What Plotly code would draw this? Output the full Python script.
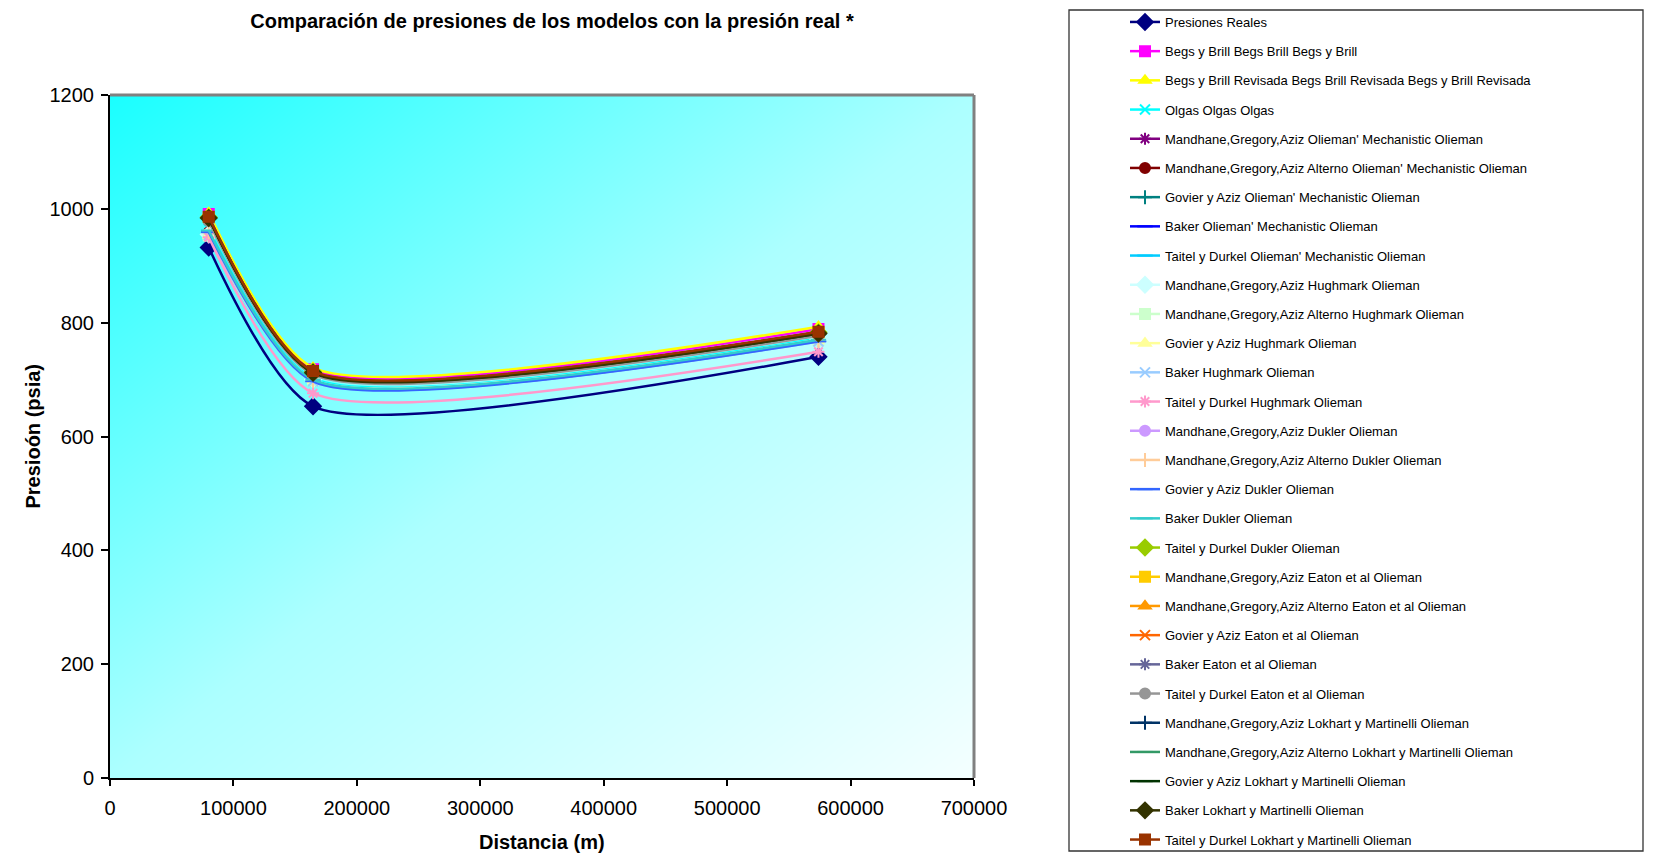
import numpy as np
import plotly.graph_objects as go

# Distance along the line (m) where pressure was evaluated
distancia_m = [80000, 164500, 574000]

series_names = [
    "Presiones Reales",
    "Begs y Brill Begs Brill Begs y Brill",
    "Begs y Brill Revisada Begs Brill Revisada Begs y Brill Revisada",
    "Olgas Olgas Olgas",
    "Mandhane,Gregory,Aziz Olieman' Mechanistic Olieman",
    "Mandhane,Gregory,Aziz Alterno Olieman' Mechanistic Olieman",
    "Govier y Aziz Olieman' Mechanistic Olieman",
    "Baker Olieman' Mechanistic Olieman",
    "Taitel y Durkel Olieman' Mechanistic Olieman",
    "Mandhane,Gregory,Aziz Hughmark Olieman",
    "Mandhane,Gregory,Aziz Alterno Hughmark Olieman",
    "Govier y Aziz Hughmark Olieman",
    "Baker Hughmark Olieman",
    "Taitel y Durkel Hughmark Olieman",
    "Mandhane,Gregory,Aziz Dukler Olieman",
    "Mandhane,Gregory,Aziz Alterno Dukler Olieman",
    "Govier y Aziz Dukler Olieman",
    "Baker Dukler Olieman",
    "Taitel y Durkel Dukler Olieman",
    "Mandhane,Gregory,Aziz Eaton et al Olieman",
    "Mandhane,Gregory,Aziz Alterno Eaton et al Olieman",
    "Govier y Aziz Eaton et al Olieman",
    "Baker Eaton et al Olieman",
    "Taitel y Durkel Eaton et al Olieman",
    "Mandhane,Gregory,Aziz Lokhart y Martinelli Olieman",
    "Mandhane,Gregory,Aziz Alterno Lokhart y Martinelli Olieman",
    "Govier y Aziz Lokhart y Martinelli Olieman",
    "Baker Lokhart y Martinelli Olieman",
    "Taitel y Durkel Lokhart y Martinelli Olieman",
]

# Pressure (psia) at each distance, one entry per series in legend order
presion_p1 = [932, 991, 993, 965, 985, 959, 985, 959, 961, 955,
              953, 952, 954, 950, 985, 959, 959, 962, 985, 985,
              985, 985, 985, 978, 984, 984, 984, 984, 986]
presion_p2 = [653, 718, 721, 702, 714, 698, 714, 698, 699, 700,
              699, 699, 697, 676, 714, 698, 697, 700, 714, 714,
              714, 714, 714, 709, 713, 713, 713, 712, 715]
presion_p3 = [740, 789, 793, 772, 783, 768, 783, 768, 769, 770,
              769, 769, 767, 749, 783, 768, 767, 770, 783, 783,
              783, 783, 783, 777, 782, 782, 781, 781, 784]

colors = [
    "#000080", "#FF00FF", "#FFFF00", "#00FFFF", "#800080", "#800000",
    "#008080", "#0000FF", "#00CCFF", "#CCFFFF", "#CCFFCC", "#FFFF99",
    "#99CCFF", "#FF99CC", "#CC99FF", "#FFCC99", "#3366FF", "#33CCCC",
    "#99CC00", "#FFCC00", "#FF9900", "#FF6600", "#666699", "#969696",
    "#003366", "#339966", "#003300", "#333300", "#993300",
]
symbols = [
    "diamond", "square", "triangle-up", "x-thin-open", "asterisk-open", "circle",
    "cross-thin-open", "line-ew-open", "line-ew-open", "diamond", "square",
    "triangle-up", "x-thin-open", "asterisk-open", "circle", "cross-thin-open",
    "line-ew-open", "line-ew-open", "diamond", "square", "triangle-up",
    "x-thin-open", "asterisk-open", "circle", "cross-thin-open", "line-ew-open",
    "line-ew-open", "diamond", "square",
]

FONT = "Liberation Sans, Arial, sans-serif"
X_RANGE = [0, 700000]
Y_RANGE = [0, 1200]

fig = go.Figure()

# Diagonal cyan-to-white plot-area fill
n = 41
gx = np.linspace(X_RANGE[0], X_RANGE[1], n)
gy = np.linspace(Y_RANGE[0], Y_RANGE[1], n)
u = np.linspace(0, 1, n)[None, :]
v = 1 - np.linspace(0, 1, n)[:, None]
fig.add_trace(go.Heatmap(
    x=gx, y=gy, z=(u + v) / 2, zmin=0, zmax=1, zsmooth="best",
    colorscale=[[0, "#1AFFFF"], [0.5, "#ACFFFF"], [1, "#F4FFFF"]],
    showscale=False, hoverinfo="skip", showlegend=False,
))

for i, name in enumerate(series_names):
    sym = symbols[i]
    size = 12 if sym == "diamond" else (11 if sym.startswith("line") else 10)
    fig.add_trace(go.Scatter(
        x=distancia_m,
        y=[presion_p1[i], presion_p2[i], presion_p3[i]],
        name=name,
        legendgroup=f"g{i}",
        mode="lines+markers",
        line=dict(color=colors[i], width=2.5, shape="spline", smoothing=0.65),
        marker=dict(symbol=sym, size=size, color=colors[i],
                    line=dict(color=colors[i], width=2)),
    ))

plot_l, plot_r, plot_t, plot_b = 110, 974, 95, 778
W, H = 1664, 854
pw, ph = plot_r - plot_l, plot_b - plot_t


def px_x(p):
    return (p - plot_l) / pw


def px_y(p):
    return (plot_b - p) / ph


fig.update_layout(
    width=W, height=H,
    margin=dict(l=plot_l, r=W - plot_r, t=plot_t, b=H - plot_b, autoexpand=False),
    paper_bgcolor="white",
    plot_bgcolor="white",
    font=dict(family=FONT, color="black"),
    title=dict(
        text="Comparación de presiones de los modelos con la presión real *",
        x=552 / W, xanchor="center", xref="container",
        y=1 - 21 / H, yanchor="middle", yref="container",
        font=dict(family=FONT, size=20, weight="bold", color="black"),
    ),
    xaxis=dict(
        range=X_RANGE, tickvals=[0, 100000, 200000, 300000, 400000, 500000, 600000, 700000],
        ticktext=["0", "100000", "200000", "300000", "400000", "500000", "600000", "700000"],
        showgrid=False, zeroline=False, showline=True, linecolor="black", linewidth=2,
        ticks="outside", ticklen=6, tickcolor="black", tickwidth=1.5,
        tickfont=dict(size=20, family=FONT), ticklabelstandoff=5,
    ),
    yaxis=dict(
        range=Y_RANGE, tickvals=[0, 200, 400, 600, 800, 1000, 1200],
        showgrid=True, gridcolor="#303030", gridwidth=1,
        zeroline=False, showline=True, linecolor="black", linewidth=2,
        ticks="outside", ticklen=7, tickcolor="black", tickwidth=1.5,
        tickfont=dict(size=20, family=FONT), ticklabelstandoff=3,
    ),
    legend=dict(
        x=px_x(1125), xanchor="left", y=px_y(7), yanchor="top",
        bgcolor="rgba(0,0,0,0)", borderwidth=0,
        font=dict(family=FONT, size=13, color="black"),
        tracegroupgap=9.3, traceorder="grouped", maxheight=880,
    ),
    annotations=[
        dict(text="Distancia (m)", xref="paper", yref="paper", x=0.5, y=0,
             xanchor="center", yanchor="middle", yshift=-(842 - plot_b),
             showarrow=False, font=dict(family=FONT, size=20, weight="bold")),
        dict(text="Presioón (psia)", xref="paper", yref="paper", x=0, y=0.5,
             xanchor="center", yanchor="middle", xshift=-(plot_l - 32),
             textangle=-90, showarrow=False,
             font=dict(family=FONT, size=20, weight="bold")),
    ],
    shapes=[
        # gray frame on top and right of the plot area
        dict(type="line", xref="paper", yref="paper", x0=0, x1=1, y0=1, y1=1,
             line=dict(color="#808080", width=3), layer="above"),
        dict(type="line", xref="paper", yref="paper", x0=1, x1=1, y0=0, y1=1,
             line=dict(color="#808080", width=3), layer="above"),
        # legend frame
        dict(type="rect", xref="paper", yref="paper",
             x0=px_x(1069), x1=px_x(1643), y0=px_y(851), y1=px_y(10),
             line=dict(color="#333333", width=1.3), fillcolor="rgba(0,0,0,0)",
             layer="above"),
    ],
)

fig.write_html("out.html")
